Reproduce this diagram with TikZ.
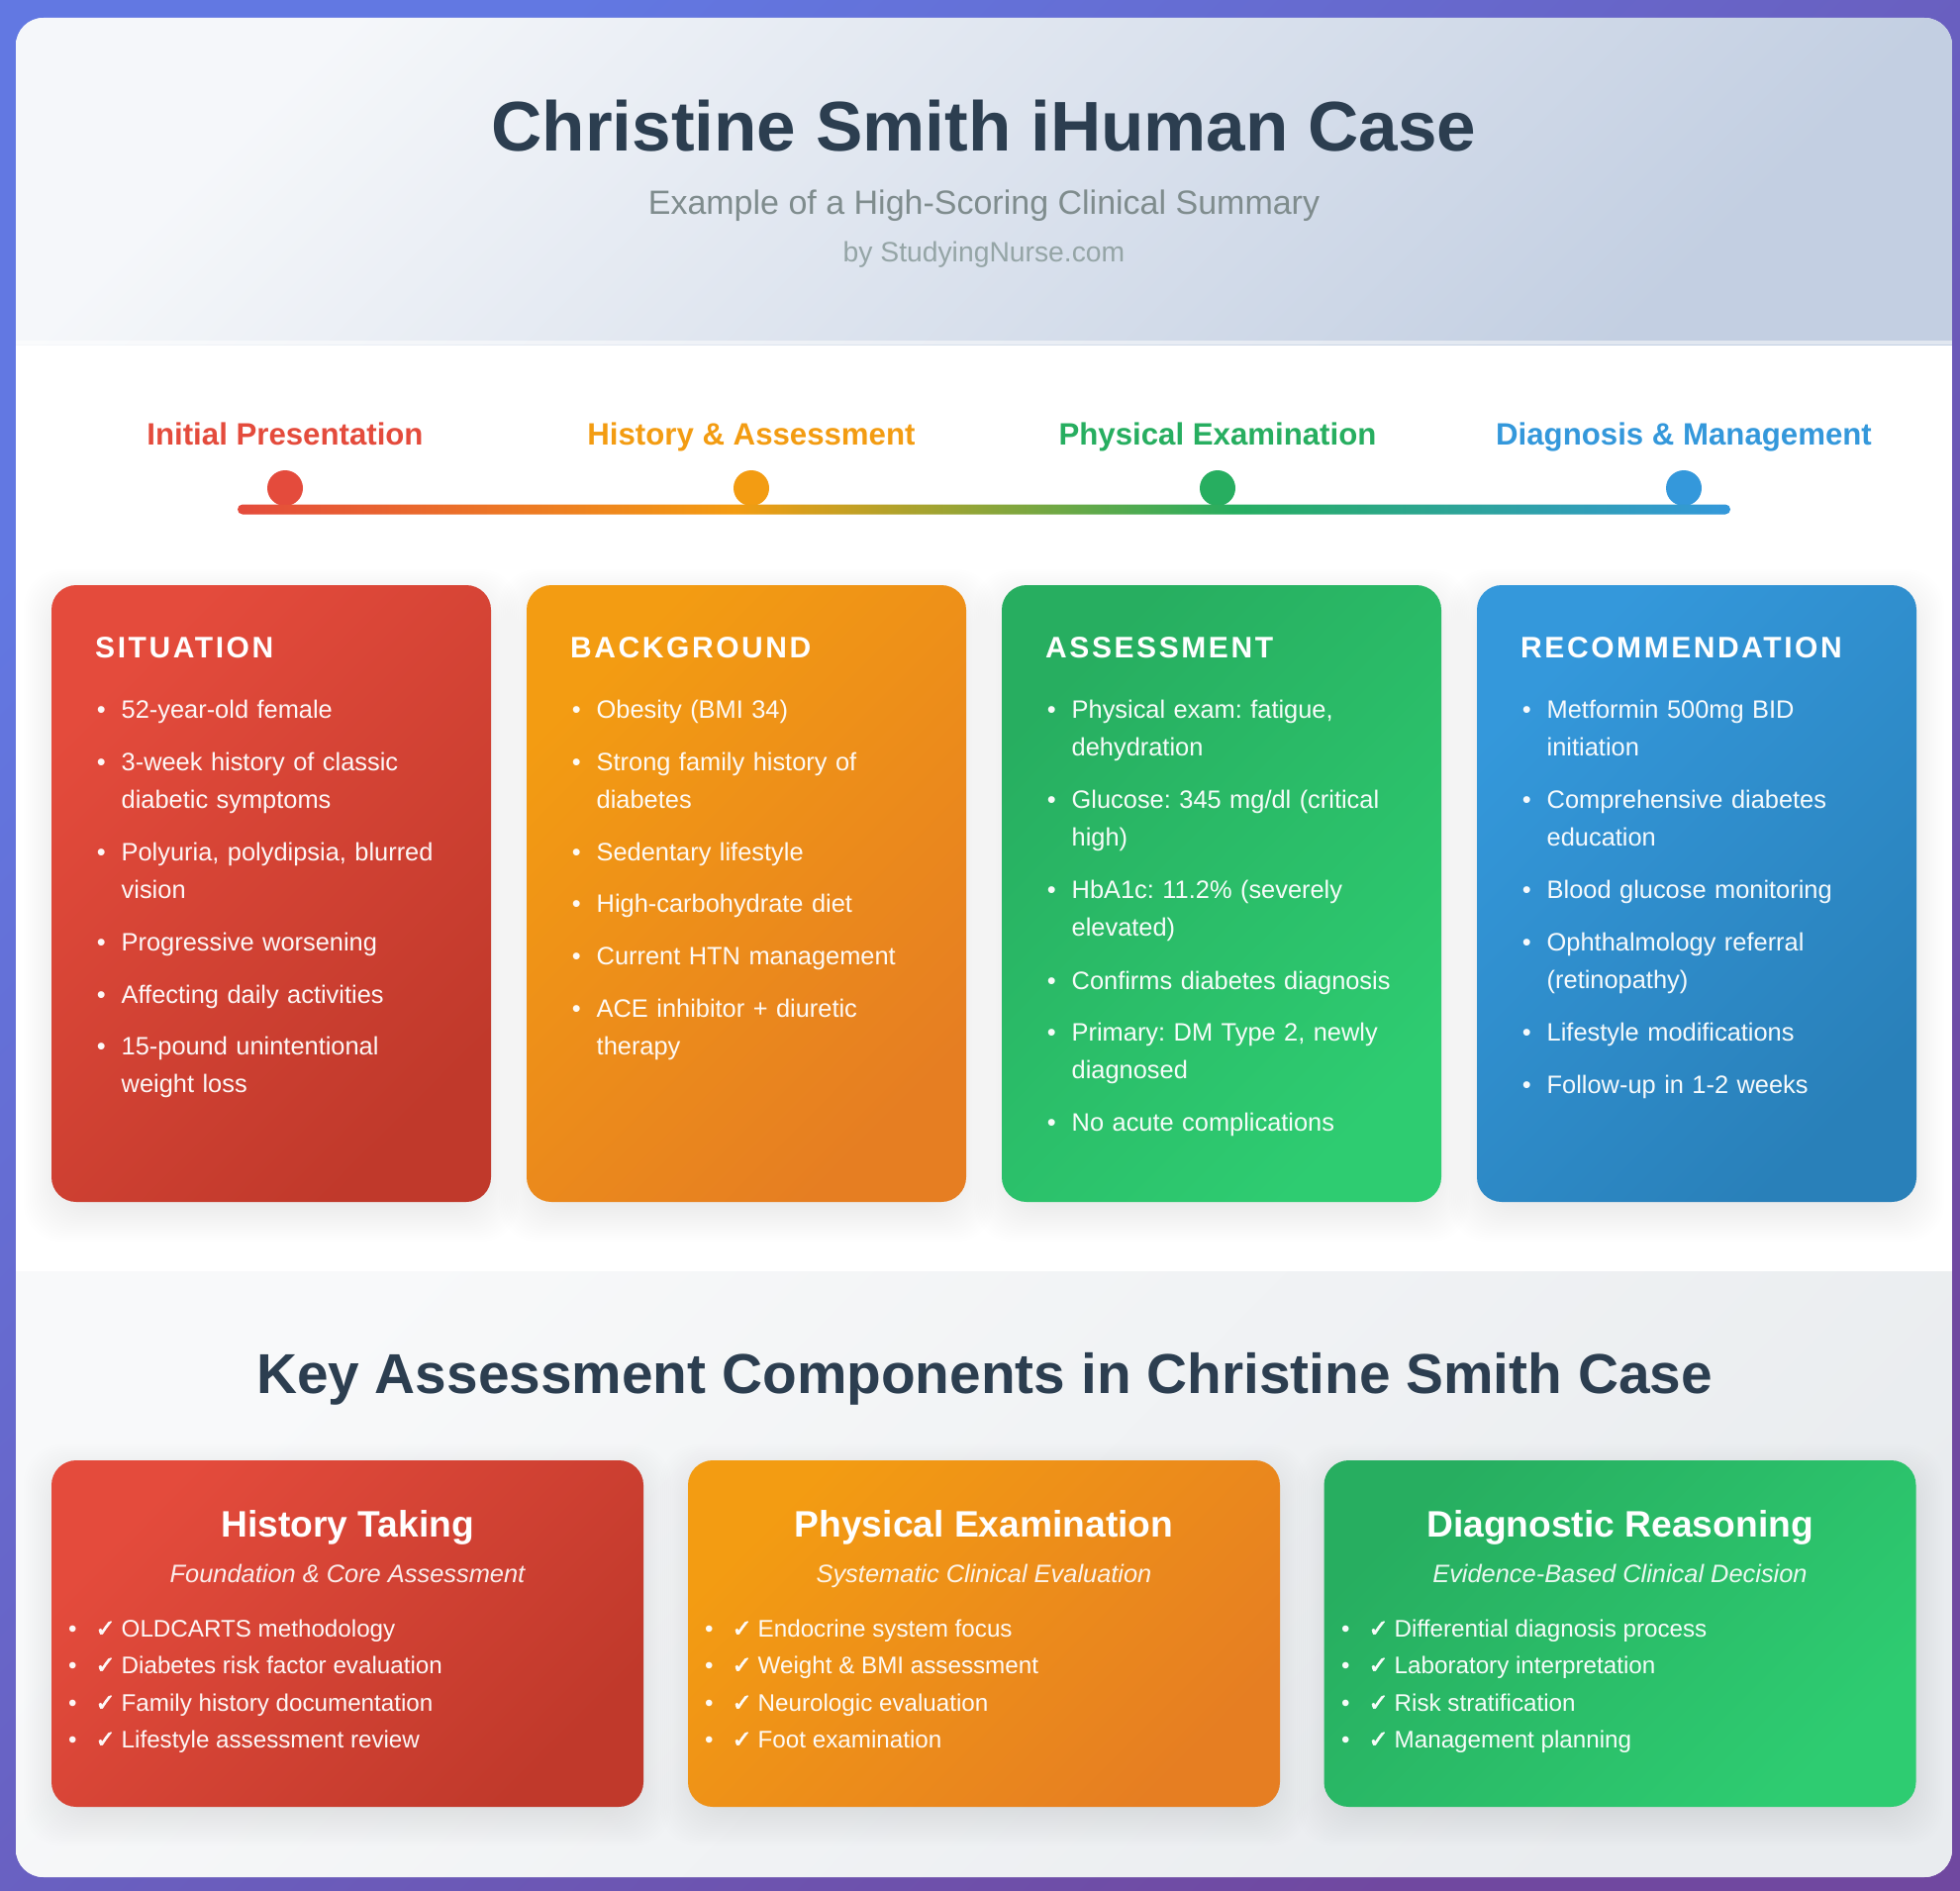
\documentclass[tikz,border=0pt]{standalone}
\usepackage{fontspec}
\usepackage{tikz}
\setmainfont{Liberation Sans}
\newfontfamily\headfont[LetterSpace=8.6]{Liberation Sans}
\newfontfamily\checkfont[FakeBold=2.5]{DejaVu Sans}
\frenchspacing
\definecolor{framestart}{RGB}{98,120,226}
\definecolor{frameend}{RGB}{112,72,160}
\definecolor{headstart}{RGB}{245,247,250}
\definecolor{headend}{RGB}{195,207,226}
\definecolor{lowstart}{RGB}{248,249,250}
\definecolor{lowend}{RGB}{233,236,239}
\definecolor{titledark}{RGB}{44,62,80}
\definecolor{subgray}{RGB}{127,140,141}
\definecolor{bygray}{RGB}{149,165,166}
\definecolor{sbarred}{RGB}{228,75,60}
\definecolor{sbarreddark}{RGB}{192,57,43}
\definecolor{sbarorange}{RGB}{243,156,18}
\definecolor{sbarorangedark}{RGB}{230,126,34}
\definecolor{sbargreen}{RGB}{39,174,96}
\definecolor{sbargreenlight}{RGB}{46,204,113}
\definecolor{sbarblue}{RGB}{52,152,219}
\definecolor{sbarbluedark}{RGB}{41,128,185}
\pgfdeclarehorizontalshading{timelinefade}{100bp}{
	color(0bp)=(sbarred);
	color(25bp)=(sbarred);
	color(41.67bp)=(sbarorange);
	color(58.33bp)=(sbargreen);
	color(75bp)=(sbarblue);
	color(100bp)=(sbarblue)
}
\newcommand{\bulleted}[1]{\llap{\textbullet\hspace{16pt}}#1}
\newcommand{\checked}[1]{\llap{\textbullet\hspace{45pt}}\llap{{\checkfont\char"2713}\hspace{6pt}}#1}
\tikzset{
	x=1pt,y=-1pt,
	redcard/.style={top color=sbarred,bottom color=sbarreddark,shading angle=45},
	orangecard/.style={top color=sbarorange,bottom color=sbarorangedark,shading angle=45},
	greencard/.style={top color=sbargreen,bottom color=sbargreenlight,shading angle=45},
	bluecard/.style={top color=sbarblue,bottom color=sbarbluedark,shading angle=45},
	softshade/.style={black,opacity=.0055,rounded corners=38pt},
	sbarcard/.style={rounded corners=25pt,minimum width=444pt,minimum height=623pt,inner sep=0pt},
	compcard/.style={rounded corners=25pt,minimum width=598pt,minimum height=350pt,inner sep=0pt},
	title/.style={anchor=base,inner sep=0pt,text=titledark,font=\fontsize{71.05}{80}\selectfont\bfseries},
	steplabel/.style={anchor=base,inner sep=0pt,font=\fontsize{31.2}{36}\selectfont\bfseries},
	stepdot/.style={circle,minimum size=36pt,inner sep=0pt},
	cardhead/.style={anchor=base west,inner sep=0pt,text=white,font=\fontsize{30}{36}\selectfont\headfont\bfseries},
	carditem/.style={anchor=base west,inner sep=0pt,text=white,text opacity=.96,text width=350pt,align=left,font=\fontsize{25.4}{38.8}\selectfont},
	comphead/.style={anchor=base,inner sep=0pt,text=white,font=\fontsize{37.2}{44}\selectfont\bfseries},
	compsub/.style={anchor=base,inner sep=0pt,text=white,text opacity=.9,font=\fontsize{25.4}{30}\selectfont\itshape},
	compitem/.style={anchor=base west,inner sep=0pt,text=white,text opacity=.96,font=\fontsize{24.2}{30}\selectfont}
}

\begin{document}
\begin{tikzpicture}
	\useasboundingbox (0,0) rectangle (1980,1910);
	% frame and page
	\shade[top color=framestart,bottom color=frameend,shading angle=45] (0,0) rectangle (1980,1910);
	\begin{scope}
		\clip[rounded corners=28pt] (16,18) rectangle (1972,1896);
		\fill[white] (16,18) rectangle (1972,1896);
		\shade[top color=headstart,bottom color=headend,shading angle=45] (16,18) rectangle (1972,348);
		\fill[white,opacity=.5] (16,344) rectangle (1972,348);
		\shade[top color=lowstart,bottom color=lowend,shading angle=45] (16,1284) rectangle (1972,1896);
	\end{scope}
	% header
	\node[title] (maintitle) at (994,153) {Christine Smith iHuman Case};
	\node[anchor=base,inner sep=0pt,text=subgray,font=\fontsize{34}{40}\selectfont] (subtitle) at (994,217) {Example of a High-Scoring Clinical Summary};
	\node[anchor=base,inner sep=0pt,text=bygray,font=\fontsize{28.3}{34}\selectfont] (byline) at (994,265) {by StudyingNurse.com};
	% timeline
	\foreach \nm/\x/\col/\txt in {
		init/288/sbarred/Initial Presentation,
		hist/759/sbarorange/History \& Assessment,
		phys/1230/sbargreen/Physical Examination,
		diag/1701/sbarblue/Diagnosis \& Management} {
		\node[steplabel,text=\col] (\nm label) at (\x,449) {\txt};
		\node[stepdot,fill=\col] (\nm dot) at (\x,493) {};
	}
	\node[minimum width=1508pt,minimum height=10pt,inner sep=0pt,rounded corners=5pt,shading=timelinefade] (timeline) at (994,514.5) {};
	% SBAR cards
	\foreach \nm/\x/\sty/\hd in {
		sit/274/redcard/SITUATION,
		back/754/orangecard/BACKGROUND,
		assess/1234/greencard/ASSESSMENT,
		recom/1714/bluecard/RECOMMENDATION} {
		\foreach \s in {28,26,...,-14}
			\fill[softshade] (\x-222-\s,591+12-\s) rectangle (\x+222+\s,1214+12+\s);
		\node[sbarcard,\sty] (\nm card) at (\x,902.5) {};
		\node[cardhead] (\nm head) at (\x-178,664) {\hd};
	}
	\foreach \y/\txt [count=\i] in {
		725/52-year-old female,
		778/{3-week history of classic\\diabetic symptoms},
		869/{Polyuria, polydipsia, blurred\\vision},
		960/Progressive worsening,
		1013/Affecting daily activities,
		1065/{15-pound unintentional\\weight loss}}
		\node[carditem] (sit\i) at (122.5,\y) {\bulleted{\txt}};
	\foreach \y/\txt [count=\i] in {
		725/Obesity (BMI 34),
		778/{Strong family history of\\diabetes},
		869/Sedentary lifestyle,
		921/High-carbohydrate diet,
		974/Current HTN management,
		1027/{ACE inhibitor + diuretic\\therapy}}
		\node[carditem] (back\i) at (602.5,\y) {\bulleted{\txt}};
	\foreach \y/\txt [count=\i] in {
		725/{Physical exam: fatigue,\\dehydration},
		816/{Glucose: 345 mg/dl (critical\\high)},
		907/{HbA1c: 11.2\% (severely\\elevated)},
		999/Confirms diabetes diagnosis,
		1051/{Primary: DM Type 2, newly\\diagnosed},
		1142/No acute complications}
		\node[carditem] (assess\i) at (1082.5,\y) {\bulleted{\txt}};
	\foreach \y/\txt [count=\i] in {
		725/{Metformin 500mg BID\\initiation},
		816/{Comprehensive diabetes\\education},
		907/Blood glucose monitoring,
		960/{Ophthalmology referral\\(retinopathy)},
		1051/Lifestyle modifications,
		1104/Follow-up in 1-2 weeks}
		\node[carditem] (recom\i) at (1562.5,\y) {\bulleted{\txt}};
	% key components
	\node[title,font=\fontsize{56.8}{64}\selectfont\bfseries] (keytitle) at (994.5,1407.5) {Key Assessment Components in Christine Smith Case};
	\foreach \nm/\x/\sty/\hd/\sub in {
		take/351/redcard/History Taking/Foundation \& Core Assessment,
		exam/994/orangecard/Physical Examination/Systematic Clinical Evaluation,
		reason/1636.5/greencard/Diagnostic Reasoning/Evidence-Based Clinical Decision} {
		\foreach \s in {28,26,...,-14}
			\fill[softshade] (\x-299-\s,1475+12-\s) rectangle (\x+299+\s,1825+12+\s);
		\node[compcard,\sty] (\nm card) at (\x,1650) {};
		\node[comphead] (\nm head) at (\x,1552) {\hd};
		\node[compsub] (\nm sub) at (\x,1598) {\sub};
	}
	\foreach \y/\txt [count=\i] in {
		1653/OLDCARTS methodology,
		1690/Diabetes risk factor evaluation,
		1728/Family history documentation,
		1765/Lifestyle assessment review}
		\node[compitem] (take\i) at (122.5,\y) {\checked{\txt}};
	\foreach \y/\txt [count=\i] in {
		1653/Endocrine system focus,
		1690/Weight \& BMI assessment,
		1728/Neurologic evaluation,
		1765/Foot examination}
		\node[compitem] (exam\i) at (765.5,\y) {\checked{\txt}};
	\foreach \y/\txt [count=\i] in {
		1653/Differential diagnosis process,
		1690/Laboratory interpretation,
		1728/Risk stratification,
		1765/Management planning}
		\node[compitem] (reason\i) at (1408.5,\y) {\checked{\txt}};
\end{tikzpicture}
\end{document}
